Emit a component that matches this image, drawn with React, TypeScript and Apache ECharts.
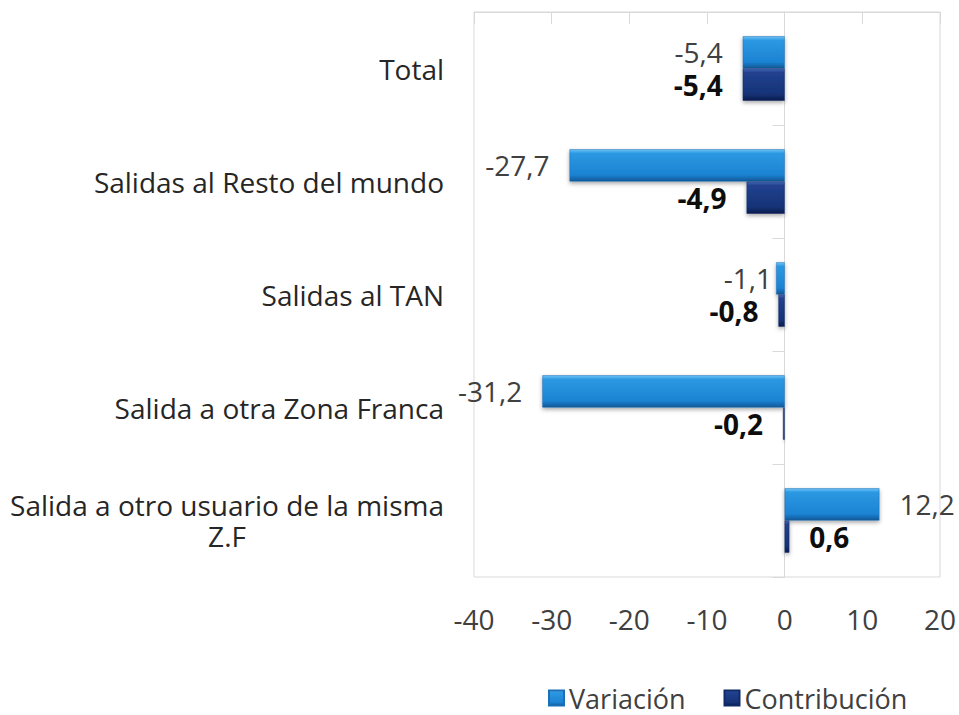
import React, { useEffect, useRef } from "react";
import * as echarts from "echarts";

const categoryLines: string[][] = [
  ["Total"],
  ["Salidas al Resto del mundo"],
  ["Salidas al TAN"],
  ["Salida a otra Zona Franca"],
  ["Salida a otro usuario de la misma", "Z.F"],
];
const categories = categoryLines.map((l) => l.join(" "));
const variacion = [-5.4, -27.7, -1.1, -31.2, 12.2];
const contribucion = [-5.4, -4.9, -0.8, -0.2, 0.6];
const xMin = -40;
const xMax = 20;
const xInterval = 10;

const FONT = "Open Sans";
const FS = 28;
const fmt = (v: number) => v.toFixed(1).replace(".", ",");

const varColor = new echarts.graphic.LinearGradient(0, 0, 0, 1, [
  { offset: 0, color: "#6fc3f6" },
  { offset: 0.12, color: "#2c98e2" },
  { offset: 0.8, color: "#1c83d3" },
  { offset: 1, color: "#105796" },
]);
const conColor = new echarts.graphic.LinearGradient(0, 0, 0, 1, [
  { offset: 0, color: "#4469b5" },
  { offset: 0.12, color: "#21418e" },
  { offset: 0.8, color: "#163277" },
  { offset: 1, color: "#0a1c4c" },
]);

export default function App() {
  const ref = useRef<HTMLDivElement>(null);
  useEffect(() => {
    if (!ref.current) return;
    const chart = echarts.init(ref.current, undefined, { renderer: "svg" });
    const labelFor = (v: number, i: number, bold: boolean) => ({
      show: true,
      position: v < 0 ? "left" : "right",
      distance: !bold && i === 2 ? 4 : 20,
      formatter: () => fmt(v),
      fontFamily: FONT,
      fontSize: FS,
      lineHeight: 30,
      fontWeight: bold ? "bold" : "normal",
      color: bold ? "#0d0d0d" : "#404040",
    });
    chart.setOption({
      animation: false,
      grid: {
        left: 474,
        right: 15,
        top: 12,
        bottom: 138,
        show: true,
        borderColor: "#d9d9d9",
        borderWidth: 1,
        backgroundColor: "transparent",
      },
      legend: {
        left: 543,
        top: 679,
        itemWidth: 15,
        itemHeight: 15,
        itemGap: 38,
        icon: "rect",
        textStyle: { fontFamily: FONT, fontSize: 27, lineHeight: 28, color: "#404040" },
        data: ["Variación", "Contribución"],
      },
      xAxis: [
        {
          type: "value",
          min: xMin,
          max: xMax,
          interval: xInterval,
          position: "bottom",
          axisLine: { show: false },
          axisTick: { show: false },
          splitLine: { show: false },
          axisLabel: {
            margin: 28,
            fontFamily: FONT,
            fontSize: FS,
            color: "#404040",
          },
        },
        {
          type: "value",
          min: xMin,
          max: xMax,
          interval: xInterval,
          position: "top",
          axisLine: { show: true, onZero: false, lineStyle: { color: "#d9d9d9" } },
          axisTick: { show: true, inside: true, length: 12, lineStyle: { color: "#d9d9d9" } },
          splitLine: { show: false },
          axisLabel: { show: false },
        },
      ],
      yAxis: [
        {
          type: "category",
          inverse: true,
          data: categories,
          position: "left",
          axisLine: { show: false, onZero: false },
          axisTick: { show: false },
          axisLabel: {
            margin: 30,
            formatter: (_v: string, idx: number) =>
              categoryLines[idx].map((l) => `{c|${l}}`).join("\n"),
            rich: {
              c: {
                align: "center",
                fontFamily: FONT,
                fontSize: FS,
                lineHeight: 31,
                color: "#262626",
              },
            },
          },
        },
        {
          type: "category",
          inverse: true,
          data: categories,
          position: "left",
          axisLine: {
            show: true,
            onZero: true,
            onZeroAxisIndex: 0,
            lineStyle: { color: "#d9d9d9" },
          },
          axisTick: { show: true, length: 12, lineStyle: { color: "#d9d9d9" } },
          axisLabel: { show: false },
        },
      ],
      series: [
        {
          name: "Variación",
          type: "bar",
          xAxisIndex: 0,
          yAxisIndex: 0,
          barGap: "0%",
          barCategoryGap: "43%",
          itemStyle: {
            color: varColor,
            borderColor: "#1a6fb5",
            borderWidth: 0.5,
            shadowBlur: 4,
            shadowColor: "rgba(0,0,0,0.35)",
            shadowOffsetY: 2,
          },
          data: variacion.map((v, i) => ({ value: v, label: labelFor(v, i, false) })),
        },
        {
          name: "Contribución",
          type: "bar",
          xAxisIndex: 0,
          yAxisIndex: 0,
          barGap: "0%",
          barCategoryGap: "43%",
          itemStyle: {
            color: conColor,
            borderColor: "#0f2a66",
            borderWidth: 0.5,
            shadowBlur: 4,
            shadowColor: "rgba(0,0,0,0.35)",
            shadowOffsetY: 2,
          },
          data: contribucion.map((v, i) => ({ value: v, label: labelFor(v, i, true) })),
        },
      ],
    });
    return () => chart.dispose();
  }, []);
  return <div ref={ref} style={{ width: 959, height: 715, position: "absolute", left: 0, top: 0 }} />;
}
